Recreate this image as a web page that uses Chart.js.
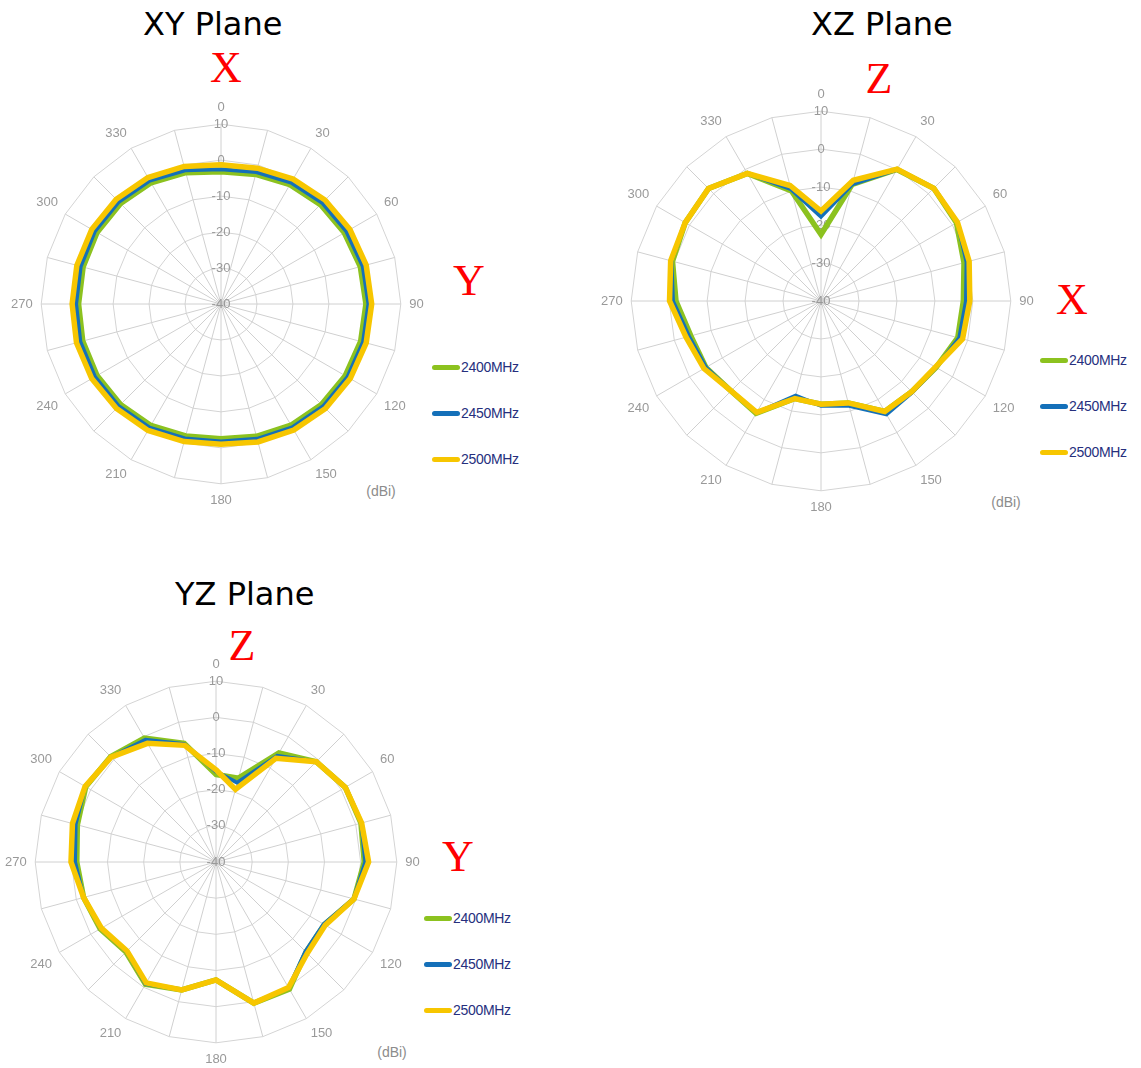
<!DOCTYPE html>
<html>
<head>
<meta charset="utf-8">
<script src="https://cdn.jsdelivr.net/npm/chart.js@4.4.0/dist/chart.umd.min.js"></script>
<style>
  body { margin: 0; background: #fff; width: 1141px; height: 1068px; position: relative; overflow: hidden; }
  .box { position: absolute; }
  .title { position: absolute; font-family: 'DejaVu Sans', sans-serif; font-size: 32px; color: #000; white-space: nowrap; line-height: 1; }
  .axis { position: absolute; font-family: 'Liberation Serif', 'Times New Roman', serif; font-size: 44px; color: #ff0000; line-height: 1; transform: translate(-50%, -50%); }
  .unit { position: absolute; font-family: 'Liberation Sans', Arial, sans-serif; font-size: 14px; color: #8c8c8c; transform: translate(-50%, -50%); }
  .legend { position: absolute; font-family: 'Liberation Sans', Arial, sans-serif; font-size: 14px; color: #262f7d; }
  .legend div { position: absolute; left: 0; height: 16px; white-space: nowrap; }
  .legend span.sw { display: inline-block; width: 28px; height: 5px; border-radius: 3px; vertical-align: middle; margin-right: 1px; }
  .legend span.tx { vertical-align: middle; letter-spacing: -0.3px; }
</style>
</head>
<body>

<div class="title" style="left:143px; top:8px;">XY Plane</div>
<div class="title" style="left:811px; top:8px;">XZ Plane</div>
<div class="title" style="left:175px; top:578px;">YZ Plane</div>

<div class="axis" style="left:226px; top:68px;">X</div>
<div class="axis" style="left:469px; top:281px;">Y</div>
<div class="axis" style="left:879px; top:79px;">Z</div>
<div class="axis" style="left:1072px; top:300px;">X</div>
<div class="axis" style="left:242px; top:646px;">Z</div>
<div class="axis" style="left:458px; top:857px;">Y</div>

<div class="unit" style="left:381px; top:491px;">(dBi)</div>
<div class="unit" style="left:1006px; top:502px;">(dBi)</div>
<div class="unit" style="left:392px; top:1052px;">(dBi)</div>

<div class="box" style="left:7px; top:94px; width:421px; height:421px;"><canvas id="chartXY"></canvas></div>
<div class="box" style="left:597px; top:81px; width:441px; height:441px;"><canvas id="chartXZ"></canvas></div>
<div class="box" style="left:1px; top:651px; width:423px; height:423px;"><canvas id="chartYZ"></canvas></div>

<div class="legend" id="legXY" style="left:432px; top:358px;"></div>
<div class="legend" id="legXZ" style="left:1040px; top:351px;"></div>
<div class="legend" id="legYZ" style="left:424px; top:909px;"></div>

<script>
// angles in degrees, 15 deg apart
const angles = [0, 15, 30, 45, 60, 75, 90, 105, 120, 135, 150, 165,
                180, 195, 210, 225, 240, 255, 270, 285, 300, 315, 330, 345];

const seriesNames = ['2400MHz', '2450MHz', '2500MHz'];
const seriesColors = ['#8cc21f', '#1470b9', '#f7c600'];

// radial scale (dBi)
const rMin = -40;
const rMax = 10;
const rStep = 10;

// XY plane
const xy2400 = [-3.2, -2.7, -1.7, -0.9, -0.4, 0.1, 0.3, 0.2, -0.1, -0.5, -1.1, -1.9,
                -2.5, -2.0, -1.0, -0.5, -0.2, -0.2, -0.4, -0.3, -0.2, -0.5, -1.1, -2.2];
const xy2450 = [-2.5, -2.0, -1.0, -0.2, 0.3, 0.8, 1.0, 0.9, 0.6, 0.2, -0.4, -1.2,
                -1.8, -1.3, -0.3, 0.2, 0.5, 0.5, 0.3, 0.4, 0.5, 0.2, -0.4, -1.5];
const xy2500 = [-1.3, -0.9, 0.1, 0.9, 1.4, 1.8, 1.9, 1.8, 1.5, 1.1, 0.5, -0.3,
                -1.0, -0.4, 0.6, 1.1, 1.5, 1.6, 1.4, 1.5, 1.5, 1.2, 0.6, -0.4];

// XZ plane
const xz2400 = [-22.5, -8.2, 0.0, 2.0, 1.2, -1.0, -2.5, -2.7, -5.0, -6.2, -6.4, -12.2,
                -12.8, -13.4, -5.8, -6.5, -5.0, -4.5, -1.8, 0.5, 1.3, 1.9, -1.2, -10.0];
const xz2450 = [-17.8, -8.2, 0.0, 2.0, 1.5, -0.3, -1.8, -2.3, -5.0, -6.0, -5.5, -11.4,
                -12.4, -14.2, -6.0, -6.5, -5.0, -4.0, -1.0, 0.8, 1.3, 1.9, -1.2, -9.5];
const xz2500 = [-16.3, -7.1, 0.1, 2.0, 1.5, 0.4, -0.8, -1.4, -5.2, -6.2, -6.4, -12.2,
                -12.8, -13.4, -6.1, -6.5, -4.4, -3.2, -0.1, 1.0, 1.3, 1.9, -1.2, -8.5];

// YZ plane
const yz2400 = [-15.8, -16.0, -5.2, -0.8, 1.3, 1.5, 1.0, -0.5, -5.4, -4.8, 0.6, 0.4,
                -7.4, -3.4, -1.0, -4.8, -3.0, -2.1, -1.5, -0.3, 1.6, 1.2, -0.4, -6.0];
const yz2450 = [-15.0, -17.3, -6.1, -0.8, 1.3, 1.6, 1.3, -0.6, -5.6, -5.0, 0.2, 0.4,
                -7.4, -3.4, -1.1, -5.0, -3.2, -2.1, -1.0, 0.2, 1.8, 1.0, -1.0, -6.3];
const yz2500 = [-14.5, -19.2, -6.9, -0.8, 1.3, 1.7, 2.2, -0.5, -5.1, -4.3, 0.1, 0.4,
                -7.4, -3.4, -1.4, -5.2, -3.4, -2.1, 0.1, 1.1, 1.8, 1.0, -2.1, -6.6];

const widths = [5.5, 4, 5.5];
const orders = [3, 2, 1];   // yellow drawn on top

function makeChart(id, values) {
    const ctx = document.getElementById(id).getContext('2d');
    return new Chart(ctx, {
        type: 'radar',
        data: {
            labels: angles.map(a => String(a)),
            datasets: values.map((v, i) => ({
                label: seriesNames[i],
                data: v,
                borderColor: seriesColors[i],
                backgroundColor: 'transparent',
                borderWidth: widths[i],
                pointRadius: 0,
                fill: false,
                tension: 0,
                order: orders[i]
            }))
        },
        options: {
            responsive: true,
            maintainAspectRatio: false,
            animation: false,
            events: [],
            layout: { padding: 0 },
            plugins: {
                legend: { display: false },
                title: { display: false },
                tooltip: { enabled: false }
            },
            scales: {
                r: {
                    min: rMin,
                    max: rMax,
                    ticks: {
                        stepSize: rStep,
                        showLabelBackdrop: false,
                        color: '#999999',
                        font: { family: 'Liberation Sans', size: 13 }
                    },
                    grid: {
                        circular: false,
                        color: '#d4d4d4',
                        lineWidth: 1
                    },
                    angleLines: {
                        color: '#d0d0d0',
                        lineWidth: 1
                    },
                    pointLabels: {
                        padding: 0,
                        color: '#999999',
                        font: { family: 'Liberation Sans', size: 13 },
                        callback: (label) => (Number(label) % 30 === 0 ? label : '')
                    }
                }
            }
        }
    });
}

function makeLegend(id) {
    const el = document.getElementById(id);
    seriesNames.forEach((name, i) => {
        const row = document.createElement('div');
        row.style.top = (i * 46) + 'px';
        row.innerHTML = '<span class="sw" style="background:' + seriesColors[i] + '"></span><span class="tx">' + name + '</span>';
        el.appendChild(row);
    });
}

makeChart('chartXY', [xy2400, xy2450, xy2500]);
makeChart('chartXZ', [xz2400, xz2450, xz2500]);
makeChart('chartYZ', [yz2400, yz2450, yz2500]);

makeLegend('legXY');
makeLegend('legXZ');
makeLegend('legYZ');
</script>
</body>
</html>
